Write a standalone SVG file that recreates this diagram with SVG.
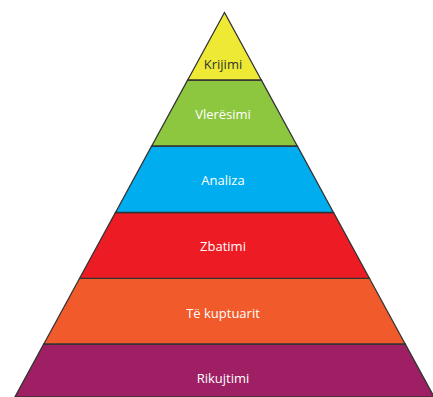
<svg xmlns="http://www.w3.org/2000/svg" width="433" height="397" viewBox="0 0 433 397">
<style>
.band{stroke:#333333;stroke-width:1.3;stroke-linejoin:miter}
.lbl{font-family:"Open Sans","Noto Sans",sans-serif;font-size:13px;text-anchor:middle;fill:#ffffff}
.dark{fill:#333333}
</style>
<rect width="433" height="397" fill="#ffffff"/>
<g id="rikujtimi">
<polygon class="band" fill="#9E1F63" points="43.8,344 405.2,344 434.1,397 14.9,397"/>
<text class="lbl" x="223" y="383">Rikujtimi</text>
</g>
<g id="te-kuptuarit">
<polygon class="band" fill="#F15A2B" points="79.6,278.3 369.4,278.3 405.2,344 43.8,344"/>
<text class="lbl" x="223" y="317.5">Të kuptuarit</text>
</g>
<g id="zbatimi">
<polygon class="band" fill="#ED1C24" points="115.5,212.5 333.5,212.5 369.4,278.3 79.6,278.3"/>
<text class="lbl" x="223" y="251">Zbatimi</text>
</g>
<g id="analiza">
<polygon class="band" fill="#00AEEF" points="151.7,146 297.3,146 333.5,212.5 115.5,212.5"/>
<text class="lbl" x="223" y="185">Analiza</text>
</g>
<g id="vleresimi">
<polygon class="band" fill="#8DC63F" points="187.7,80 261.3,80 297.3,146 151.7,146"/>
<text class="lbl" x="223" y="119">Vlerësimi</text>
</g>
<g id="krijimi">
<polygon class="band" fill="#EEE935" points="224.5,12.5 261.3,80 187.7,80"/>
<text class="lbl dark" x="223" y="68.5">Krijimi</text>
</g>
<g id="connectors"></g>
</svg>
